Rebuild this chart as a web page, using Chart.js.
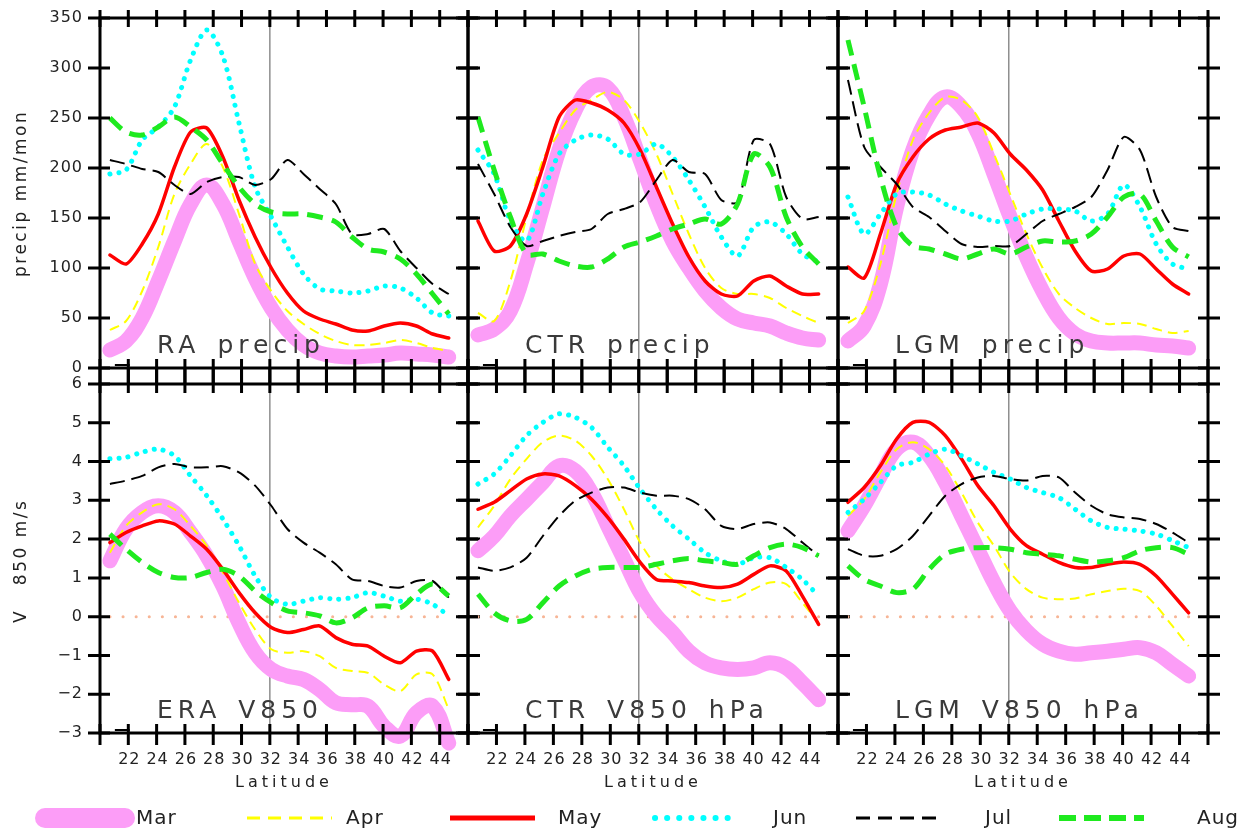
<!DOCTYPE html>
<html><head><meta charset="utf-8">
<script src="https://cdn.jsdelivr.net/npm/chart.js@4.4.0/dist/chart.umd.min.js"></script>
<style>
html,body{margin:0;padding:0;background:#fff;width:1258px;height:829px;overflow:hidden;}
canvas{position:absolute;left:0;top:0;}
.txt{position:absolute;white-space:nowrap;font-family:'DejaVu Sans',sans-serif;line-height:normal;}
.ttl{font-size:25px;letter-spacing:5px;word-spacing:4px;color:#3a3a3a;}
.ylab{font-size:17px;letter-spacing:2.5px;color:#222;transform-origin:0 0;}
.lat{font-size:16px;letter-spacing:4px;color:#222;transform:translateX(-50%);}
.leg{font-size:20px;letter-spacing:1px;color:#222;}
</style></head><body>
<div id="wrap"></div>
<script>
// ---------------- data ----------------
const lat = [20.7,21.84,22.98,24.12,25.26,26.4,27.54,28.68,29.82,30.96,32.1,33.24,34.38,35.52,36.66,37.8,38.94,40.08,41.22,42.36,43.5,44.64];
const months = ['Mar','Apr','May','Jun','Jul','Aug'];
const precipTicks = [0,50,100,150,200,250,300,350];
const vTicks = [-3,-2,-1,0,1,2,3,4,5,6];
const latTickMarks = [20,22,24,26,28,30,32,34,36,38,40,42,44,46];
const latTickLabels = [22,24,26,28,30,32,34,36,38,40,42,44];

// RA precip
const raMar = [18,27,50,87,127,164,183,164,127,90,60,38,23,15,12,11,12,13,15,14,13,11];
const raApr = [38,47,77,121,174,204,224,201,154,104,77,57,44,34,27,23,23,25,28,25,20,17];
const raMay = [113,104,124,154,201,236,240,211,168,131,100,75,57,49,44,38,37,42,45,42,34,30];
const raJun = [194,198,228,241,261,308,338,312,245,181,151,121,94,79,77,75,77,82,80,70,55,52];
const raJul = [208,204,199,196,183,174,186,191,191,183,189,208,194,179,164,134,134,139,117,100,84,74];
const raAug = [250,236,233,241,251,241,228,204,181,164,156,154,154,151,146,131,119,116,109,94,74,54];
// CTR precip
const ctrMar = [33,39,57,104,161,218,258,281,280,251,208,164,127,100,77,60,49,45,42,35,30,28];
const ctrApr = [55,47,87,151,208,235,258,268,276,268,245,214,174,134,100,80,74,74,70,60,52,45];
const ctrMay = [147,117,122,154,201,251,268,265,258,245,218,181,144,111,87,74,72,87,92,82,74,74];
const ctrJun = [218,194,147,127,174,214,228,233,229,214,214,224,211,188,161,131,112,141,146,134,114,106];
const ctrJul = [204,174,141,122,127,132,136,139,154,159,166,188,208,196,194,168,166,228,224,171,149,151];
const ctrAug = [251,198,151,114,114,107,102,101,109,121,126,132,139,144,149,144,164,214,201,151,121,104];
// LGM precip
const lgmMar = [27,42,84,161,218,253,271,261,235,194,151,111,77,50,34,27,25,25,25,23,22,20];
const lgmApr = [45,57,104,174,228,255,271,268,251,214,174,134,100,74,60,50,44,45,44,39,35,37];
const lgmMay = [101,90,134,184,211,229,238,241,245,235,214,198,178,147,117,97,99,112,114,99,84,74];
const lgmJun = [171,134,154,174,176,173,164,157,152,147,147,154,159,159,157,147,154,183,161,124,104,99];
const lgmJul = [288,221,201,184,161,151,137,124,121,122,122,134,147,154,161,171,198,231,218,171,141,137];
const lgmAug = [328,261,191,141,122,119,114,109,114,119,114,121,127,126,127,134,151,171,174,147,121,111];
// ERA V850
const eraMar = [1.44,2.26,2.69,2.86,2.69,2.17,1.57,0.79,-0.16,-0.93,-1.36,-1.53,-1.62,-1.88,-2.22,-2.27,-2.31,-2.83,-3.08,-2.48,-2.31,-3.26];
const eraApr = [1.65,2.34,2.69,2.90,2.77,2.34,1.83,1.14,0.36,-0.33,-0.84,-0.93,-0.89,-1.02,-1.32,-1.40,-1.45,-1.75,-1.92,-1.49,-1.49,-2.39];
const eraMay = [1.91,2.17,2.34,2.47,2.39,2.08,1.74,1.22,0.62,0.10,-0.28,-0.41,-0.33,-0.24,-0.54,-0.71,-0.76,-1.02,-1.19,-0.89,-0.89,-1.62];
const eraJun = [4.07,4.11,4.24,4.32,4.15,3.63,3.12,2.52,1.83,1.05,0.49,0.32,0.40,0.49,0.45,0.49,0.62,0.53,0.40,0.45,0.32,0.02];
const eraJul = [3.42,3.51,3.63,3.85,3.94,3.85,3.85,3.88,3.72,3.38,2.86,2.26,1.91,1.65,1.35,0.96,0.92,0.79,0.75,0.92,0.92,0.49];
const eraAug = [2.13,1.74,1.40,1.14,1.01,1.01,1.14,1.22,1.05,0.66,0.36,0.15,0.10,0.02,-0.16,-0.03,0.23,0.28,0.23,0.58,0.84,0.53];
// CTR V850
const ctrvMar = [1.70,2.08,2.60,3.03,3.46,3.89,3.76,3.20,2.34,1.48,0.62,0.02,-0.41,-0.89,-1.19,-1.32,-1.36,-1.32,-1.19,-1.32,-1.71,-2.14];
const ctrvApr = [2.30,2.86,3.55,4.07,4.50,4.67,4.54,4.15,3.55,2.77,1.91,1.31,0.96,0.71,0.49,0.40,0.49,0.71,0.88,0.84,0.36,-0.16];
const ctrvMay = [2.77,2.95,3.25,3.55,3.68,3.63,3.38,3.03,2.56,2.00,1.40,0.96,0.92,0.88,0.79,0.75,0.84,1.09,1.31,1.18,0.53,-0.20];
const ctrvJun = [3.42,3.68,4.15,4.67,5.01,5.23,5.14,4.88,4.37,3.89,3.29,2.77,2.34,2.00,1.65,1.44,1.35,1.52,1.52,1.27,0.96,0.53];
const ctrvJul = [1.27,1.18,1.27,1.52,2.08,2.60,2.99,3.20,3.33,3.33,3.20,3.12,3.12,3.03,2.77,2.34,2.26,2.39,2.43,2.26,1.91,1.57];
const ctrvAug = [0.58,0.10,-0.11,-0.07,0.36,0.79,1.05,1.22,1.27,1.27,1.27,1.35,1.44,1.50,1.44,1.40,1.35,1.57,1.78,1.87,1.78,1.57];
// LGM V850
const lgmvMar = [2.21,2.86,3.63,4.32,4.50,4.15,3.46,2.60,1.74,0.88,0.15,-0.36,-0.71,-0.89,-0.97,-0.93,-0.89,-0.84,-0.80,-0.93,-1.23,-1.53];
const lgmvApr = [2.60,3.03,3.72,4.32,4.50,4.32,3.89,3.20,2.43,1.83,1.14,0.71,0.49,0.45,0.47,0.58,0.66,0.72,0.66,0.28,-0.24,-0.76];
const lgmvMay = [2.95,3.33,3.89,4.58,5.01,5.01,4.67,4.07,3.38,2.86,2.26,1.83,1.61,1.40,1.27,1.27,1.35,1.41,1.35,1.05,0.58,0.10];
const lgmvJun = [2.69,3.03,3.46,3.89,3.98,4.19,4.32,4.15,3.94,3.72,3.55,3.33,3.20,3.07,2.77,2.47,2.30,2.26,2.21,2.13,1.96,1.78];
const lgmvJul = [1.74,1.57,1.57,1.74,2.08,2.60,3.12,3.42,3.59,3.63,3.55,3.51,3.63,3.59,3.20,2.86,2.64,2.56,2.52,2.39,2.17,1.91];
const lgmvAug = [1.31,0.96,0.79,0.62,0.71,1.22,1.61,1.74,1.78,1.78,1.74,1.65,1.61,1.57,1.48,1.41,1.44,1.52,1.70,1.78,1.78,1.61];

// ---------------- styles / layout ----------------
const W = 1258, H = 829;
const lineStyles = [
  {color:'#FC9DF7', width:15, dash:[], cap:'round', tension:0.4},
  {color:'#FFFF00', width:2, dash:[10,6], cap:'butt', tension:0.3},
  {color:'#FF0000', width:3.5, dash:[], cap:'round', tension:0.25},
  {color:'#00FFFF', width:5, dash:[0.1,9], cap:'round', tension:0.3},
  {color:'#000000', width:2, dash:[15,7], cap:'butt', tension:0.25},
  {color:'#1FEA1F', width:5, dash:[16,9], cap:'butt', tension:0.3},
];
const cols = [[100,468],[468,838],[838,1208]];
const rows = [[18,368],[384,733]];
const panels = [
  {title:'RA precip',    c:0, r:0, series:[raMar,raApr,raMay,raJun,raJul,raAug]},
  {title:'CTR precip',   c:1, r:0, series:[ctrMar,ctrApr,ctrMay,ctrJun,ctrJul,ctrAug]},
  {title:'LGM precip',   c:2, r:0, series:[lgmMar,lgmApr,lgmMay,lgmJun,lgmJul,lgmAug]},
  {title:'ERA V850',     c:0, r:1, series:[eraMar,eraApr,eraMay,eraJun,eraJul,eraAug]},
  {title:'CTR V850 hPa', c:1, r:1, series:[ctrvMar,ctrvApr,ctrvMay,ctrvJun,ctrvJul,ctrvAug]},
  {title:'LGM V850 hPa', c:2, r:1, series:[lgmvMar,lgmvApr,lgmvMay,lgmvJun,lgmvJul,lgmvAug]},
];

const wrap = document.getElementById('wrap');
function addText(cls, html, left, top, extra){
  const d = document.createElement('div');
  d.className = 'txt ' + cls; d.innerHTML = html;
  d.style.left = left + 'px'; d.style.top = top + 'px';
  if (extra) Object.assign(d.style, extra);
  wrap.appendChild(d); return d;
}

function framePlugin(p){
  const isTop = p.r === 0;
  const yt = isTop ? precipTicks : vTicks;
  return {
    id:'frame'+p.c+p.r,
    beforeDatasetsDraw(chart){
      const {ctx, chartArea:a, scales:{x}} = chart;
      const px = x.getPixelForValue(32);
      ctx.save(); ctx.strokeStyle='#8e8e8e'; ctx.lineWidth=1.5;
      ctx.beginPath(); ctx.moveTo(px,a.top); ctx.lineTo(px,a.bottom); ctx.stroke(); ctx.restore();
    },
    afterDatasetsDraw(chart){
      const {ctx, chartArea:a, scales:{x,y}} = chart;
      ctx.save();
      ctx.strokeStyle='#000'; ctx.lineWidth=3; ctx.lineCap='butt'; ctx.setLineDash([]);
      ctx.strokeRect(a.left,a.top,a.width,a.height);
      ctx.beginPath();
      const topOut = isTop ? 8 : 16, botOut = isTop ? 16 : 12;
      for (const v of latTickMarks){
        const px = x.getPixelForValue(v);
        ctx.moveTo(px,a.top-topOut); ctx.lineTo(px,a.top+9);
        ctx.moveTo(px,a.bottom-9); ctx.lineTo(px,a.bottom+botOut);
      }
      for (const v of yt){
        const py = y.getPixelForValue(v);
        ctx.moveTo(a.left-12,py); ctx.lineTo(a.left+10,py);
        ctx.moveTo(a.right-10,py); ctx.lineTo(a.right+12,py);
      }
      ctx.stroke();
      // small mark near the lower-left corner
      ctx.lineWidth=2; ctx.beginPath();
      ctx.moveTo(x.getPixelForValue(21.05), a.bottom-3); ctx.lineTo(x.getPixelForValue(22.1), a.bottom-3); ctx.stroke();
      ctx.fillStyle='#222'; ctx.font='16px "DejaVu Sans"';
      try{ ctx.letterSpacing='1px'; }catch(e){}
      if (p.c === 0){
        ctx.textAlign='right'; ctx.textBaseline='middle';
        for (const v of yt){
          const py = y.getPixelForValue(v);
          ctx.fillText(v < 0 ? '\u2212' + Math.abs(v) : String(v), a.left-17, py);
        }
      }
      if (!isTop){
        ctx.textAlign='center'; ctx.textBaseline='middle';
        for (const v of latTickLabels){
          ctx.fillText(String(v), x.getPixelForValue(v)+1, 760);
        }
      }
      ctx.restore();
    }
  };
}

const legendPlugin = {
  id:'legendDraw',
  afterDraw(chart){
    const ctx = chart.ctx;
    const spans = [[45,125],[247,332],[450,535],[655,737],[856,939],[1059,1144]];
    const widths = [20,3,5,6,3,6];
    const dashes = [[],[13,8],[],[0.1,12],[14,8],[17,8]];
    ctx.save();
    lineStyles.forEach((s,i)=>{
      ctx.strokeStyle = s.color; ctx.lineWidth = widths[i];
      ctx.lineCap = (i===0||i===3) ? 'round' : 'butt';
      ctx.setLineDash(dashes[i]);
      ctx.beginPath(); ctx.moveTo(spans[i][0],818); ctx.lineTo(spans[i][1],818); ctx.stroke();
    });
    ctx.restore();
  }
};

panels.forEach((p, idx)=>{
  const [L,R] = cols[p.c], [T,B] = rows[p.r];
  const cv = document.createElement('canvas');
  cv.width = W; cv.height = H;
  wrap.appendChild(cv);
  const isTop = p.r === 0;
  const datasets = p.series.map((arr,i)=>{
    const s = lineStyles[i];
    return {
      label: months[i],
      data: lat.map((x,k)=>({x, y:arr[k]})),
      borderColor: s.color, borderWidth: s.width, borderDash: s.dash,
      borderCapStyle: s.cap, borderJoinStyle:'round',
      tension: s.tension, pointRadius:0, fill:false, clip:false,
      order: 6 - i + 1
    };
  });
  if (!isTop){
    datasets.push({label:'zero', data:[{x:lat[0],y:0},{x:lat[lat.length-1],y:0}],
      borderColor:'#F7B596', borderWidth:3, borderDash:[0.1,13], borderCapStyle:'round',
      pointRadius:0, fill:false, order:10});
  }
  const plugins = [framePlugin(p)];
  if (idx === panels.length-1) plugins.push(legendPlugin);
  new Chart(cv, {
    type:'line',
    data:{datasets},
    options:{
      responsive:false, animation:false, devicePixelRatio:1,
      layout:{padding:{left:L, top:T, right:W-R, bottom:H-B}},
      scales:{
        x:{type:'linear', min:20, max:46, display:false},
        y:{type:'linear', min: isTop ? 0 : -3, max: isTop ? 350 : 6, display:false}
      },
      plugins:{legend:{display:false}, tooltip:{enabled:false}}
    },
    plugins
  });
  // panel title
  addText('ttl', p.title, L + 57, isTop ? 330 : 695);
  if (!isTop) addText('lat', 'Latitude', (L+R)/2, 772);
});

// y-axis titles (rotated)
addText('ylab', 'precip mm/mon', 10, 277, {transform:'rotate(-90deg)'});
addText('ylab', 'V&nbsp;&nbsp;&nbsp;850 m/s', 10, 623, {transform:'rotate(-90deg)'});

// legend labels
const legX = [136,346,558,773,985,1197];
months.forEach((m,i)=> addText('leg', m, legX[i], 805));
</script>
</body></html>
